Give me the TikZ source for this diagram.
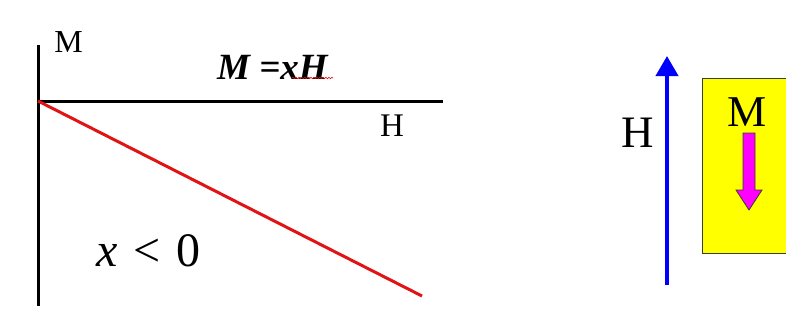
\documentclass[tikz,border=0pt]{standalone}
\usepackage{fontspec}
\setmainfont{Liberation Serif}
\usetikzlibrary{arrows.meta,decorations.pathmorphing}
\definecolor{lred}{RGB}{225,20,20}
\definecolor{lblue}{RGB}{0,0,255}
\definecolor{lyel}{RGB}{255,255,0}
\definecolor{lmag}{RGB}{255,0,255}
\definecolor{ledge}{RGB}{60,60,40}
\begin{document}
\begin{tikzpicture}[x=1pt,y=-1pt,
  lbl/.style={inner sep=0pt},
  axis/.style={line width=3pt,black},
  ]
\useasboundingbox (0,0) rectangle (786,333);
% axes
\coordinate (O) at (38,101);
\coordinate (Mtop) at (38,45);
\coordinate (Mbot) at (38,306);
\coordinate (Hend) at (443,101);
\coordinate (R) at (422,296);
\draw[axis] (Mtop) -- (Mbot);
\draw[axis] (O) -- (Hend);
\draw[line width=3pt,lred] (O) -- (R);
\node[lbl,font=\fontsize{32}{34}\selectfont] (Mlab) at (68.5,42) {M};
\node[lbl,font=\fontsize{33}{35}\selectfont] (Hlab) at (392,126) {H};
\node[lbl,font=\fontsize{37}{39}\selectfont\bfseries\itshape,anchor=west] (eq) at (217,67) {M =xH};
\coordinate (w1) at (292,78);
\coordinate (w2) at (333,78);
\draw[lred,line width=0.6pt,decorate,decoration={snake,amplitude=0.8pt,segment length=3pt}] (w1) -- (w2);
\node[lbl,font=\fontsize{48}{50}\selectfont,anchor=west] (cond) at (96,251) {\textit{x}\hspace{16pt}<\hspace{16pt}0};
% right part
\coordinate (Bbot) at (667,285);
\coordinate (Btop) at (667,56);
\draw[lblue,line width=4pt,-{Triangle[width=22pt,length=20pt]}] (Bbot) -- (Btop);
\node[lbl,font=\fontsize{45}{47}\selectfont] (Hr) at (638,133) {H};
\fill[lyel] (702,78) rectangle (786,253);
\draw[ledge,line width=1pt] (786,78) -- (702,78) -- (702,253) -- (786,253);
\node[lbl,font=\fontsize{44}{46}\selectfont] (Mr) at (747,112) {M};
\draw[ledge,line width=0.8pt,fill=lmag] (743,133) -- (755,133) -- (755,190) -- (762,190) -- (749,210) -- (736,190) -- (743,190) -- cycle;
\end{tikzpicture}
\end{document}
